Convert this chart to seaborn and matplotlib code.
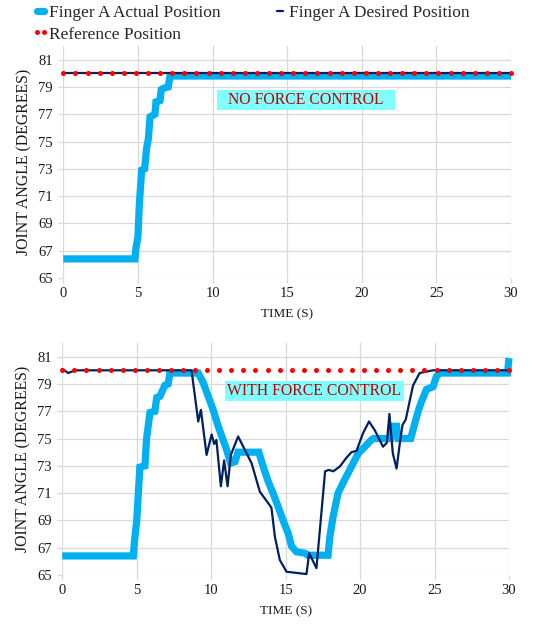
import numpy as np
import pandas as pd
import matplotlib
matplotlib.use("Agg")
import matplotlib.pyplot as plt
from matplotlib.patches import Rectangle
import seaborn as sns

# --- data (time in s, joint angle in degrees) ---
# top panel: no force control
top_actual_t = [0, 4.8, 4.87, 5.0, 5.1, 5.25, 5.45, 5.58, 5.7, 5.81, 6.14, 6.21, 6.48, 6.56, 6.7, 7.03, 7.15, 30]
top_actual_y = [66.4, 66.4, 67.2, 68.0, 70.5, 72.9, 73.0, 74.5, 75.2, 76.8, 77.0, 77.9, 78.0, 78.8, 78.9, 79.0, 79.8, 79.8]
top_desired_t = [0, 30]
top_desired_y = [80.0, 80.0]

# bottom panel: with force control
bot_actual_t = [0, 4.77, 4.85, 5.0, 5.21, 5.55, 5.66, 5.89, 6.22, 6.34, 6.56, 6.89, 7.11, 7.23,
                9.13, 9.46, 9.8, 10.13, 10.47, 10.8, 11.03, 11.3, 11.6, 11.8, 13.2, 13.49, 13.83,
                14.15, 14.5, 14.83, 15.17, 15.4, 15.73, 16.29, 16.5, 17.85, 17.97, 18.19, 18.52,
                18.97, 19.42, 19.87, 20.32, 20.76, 20.9, 22.05, 22.15, 22.45, 22.55, 23.4, 23.67,
                23.9, 24.12, 24.46, 24.9, 25.13, 25.35, 29.9, 30]
bot_actual_y = [66.4, 66.4, 67.5, 69.0, 72.9, 73.0, 75.0, 76.9, 77.0, 78.0, 78.1, 78.9, 79.0, 79.8,
                79.8, 79.1, 78.1, 77.1, 75.9, 74.9, 74.2, 73.2, 73.3, 74.0, 74.0, 72.95, 71.85,
                71.0, 70.0, 69.0, 68.05, 67.1, 66.7, 66.6, 66.45, 66.45, 67.8, 69.3, 71.0,
                72.0, 72.95, 73.9, 74.4, 74.9, 75.0, 75.0, 75.9, 75.9, 75.0, 75.0, 76.1,
                77.0, 77.7, 78.6, 78.8, 79.55, 79.8, 79.8, 80.9]
bot_desired_t = [0, 0.4, 0.85, 8.68, 9.13, 9.31, 9.69, 10.03, 10.2, 10.35, 10.65, 10.87, 11.1,
                 11.32, 11.81, 12.71, 13.27, 13.94, 14.05, 14.28, 14.61, 15.06, 16.4, 16.58,
                 17.07, 17.65, 17.9, 18.2, 18.45, 18.64, 19.09, 19.42, 19.76, 20.2, 20.6, 20.99,
                 21.54, 21.8, 21.97, 22.2, 22.45, 22.71, 22.85, 23.07, 23.34, 23.56, 24.0, 24.9, 30]
bot_desired_y = [80.1, 79.8, 80.0, 80.0, 76.25, 77.1, 73.8, 75.3, 74.6, 74.9, 71.5, 73.4, 71.5,
                 73.8, 75.15, 73.2, 71.1, 70.1, 69.9, 67.8, 66.1, 65.24, 65.07, 66.6,
                 65.5, 72.6, 72.7, 72.6, 72.8, 72.95, 73.6, 74.0, 74.1, 75.4, 76.25, 75.6,
                 74.4, 74.7, 76.8, 73.9, 72.8, 75.0, 76.0, 76.4, 77.8, 78.9, 79.8, 80.0, 80.0]

# reference position sampled at 38 points over the 30 s run
ref_t = np.linspace(0, 30, 38)
ref_y = [80.0] * 38

x_ticks = [0, 5, 10, 15, 20, 25, 30]
y_ticks = [65, 67, 69, 71, 73, 75, 77, 79, 81]
labels = ["Finger A Actual Position", "Finger A Desired Position", "Reference Position"]
notes = ["NO FORCE CONTROL", "WITH FORCE CONTROL"]

sns.set_theme(style="white")
plt.rcParams["font.family"] = ["Liberation Serif", "DejaVu Serif"]

ACTUAL = "#00B0F0"
DESIRED = "#002060"
REF = "#FF0000"
GRID = "#D9D9D9"

fig = plt.figure(figsize=(5.36, 6.24), dpi=100)
ax_top = fig.add_axes([0.1181, 0.5545, 0.8353, 0.3718])
ax_bot = fig.add_axes([0.1162, 0.0785, 0.8334, 0.3718])

panels = [
    (ax_top, top_actual_t, top_actual_y, top_desired_t, top_desired_y, notes[0], (10.27, 22.2, 77.33, 78.8)),
    (ax_bot, bot_actual_t, bot_actual_y, bot_desired_t, bot_desired_y, notes[1], (10.92, 22.93, 77.72, 79.19)),
]

for ax, at, ay, dt, dy, note, box in panels:
    act = pd.DataFrame({"t": at, "y": ay})
    des = pd.DataFrame({"t": dt, "y": dy})
    ref = pd.DataFrame({"t": ref_t, "y": ref_y})
    sns.lineplot(data=act, x="t", y="y", ax=ax, color=ACTUAL, linewidth=5.2,
                 estimator=None, sort=False, label=labels[0], clip_on=False,
                 solid_capstyle="butt", solid_joinstyle="miter")
    sns.lineplot(data=des, x="t", y="y", ax=ax, color=DESIRED, linewidth=1.6,
                 estimator=None, sort=False, label=labels[1], clip_on=False)
    sns.lineplot(data=ref, x="t", y="y", ax=ax, color=REF, linestyle="none",
                 marker="o", markersize=3.6, markeredgewidth=0,
                 estimator=None, sort=False, label=labels[2], clip_on=False)

    ax.set_xlim(0, 30)
    ax.set_ylim(65, 82)
    ax.set_xticks(x_ticks)
    ax.set_yticks(y_ticks)
    ax.grid(True, color=GRID, linewidth=0.9)
    ax.set_axisbelow(True)
    for s in ax.spines.values():
        s.set_visible(False)
    ax.tick_params(axis="both", which="major", direction="out", length=3.5, width=0.9,
                   color=GRID, labelsize=10.5, labelcolor="#1a1a1a",
                   bottom=True, left=True)
    ax.tick_params(axis="x", pad=3)
    ax.tick_params(axis="y", pad=4)
    ax.set_xlabel("TIME (S)", fontsize=9.5, color="#1a1a1a")
    ax.set_ylabel("JOINT ANGLE (DEGREES)", fontsize=11.4, color="#1a1a1a")
    ax.xaxis.set_label_coords(0.5, -0.13)
    ax.yaxis.set_label_coords(-0.07, 0.5)

    x0, x1, y0, y1 = box
    ax.add_patch(Rectangle((x0, y0), x1 - x0, y1 - y0, facecolor="#80FFFF",
                           edgecolor="none", zorder=1.5))
    ax.text((x0 + x1) / 2, (y0 + y1) / 2, note, ha="center", va="center",
            fontsize=11.3, color="#C00000", zorder=1.6)
    ax.get_legend().remove()

# legend fills column-wise: actual / reference in col 1, desired in col 2
handles, lbls = ax_top.get_legend_handles_labels()
order = [0, 2, 1]
leg = fig.legend([handles[i] for i in order], [lbls[i] for i in order],
                 loc="upper left", bbox_to_anchor=(32 / 536, 1 - 5 / 624),
                 ncol=2, frameon=False, fontsize=12.5, handlelength=1.0, handletextpad=0.0,
                 columnspacing=2.9, labelspacing=0.3, borderpad=0, borderaxespad=0,
                 numpoints=2)
leg.legend_handles[0].set_solid_capstyle("round")

fig.savefig("out.png", dpi=100)
